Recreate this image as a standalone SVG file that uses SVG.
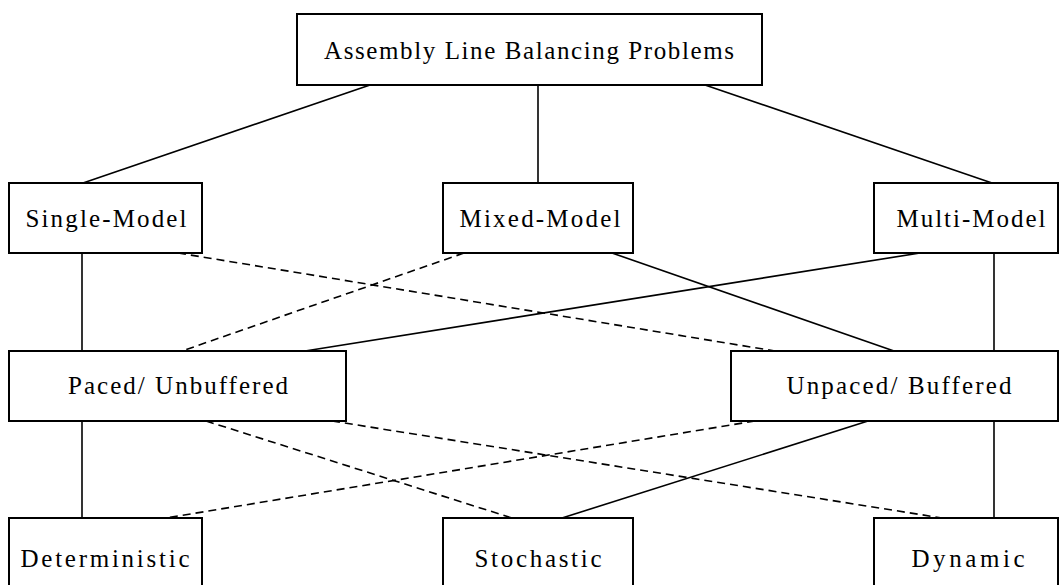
<svg xmlns="http://www.w3.org/2000/svg" width="1060" height="585" viewBox="0 0 1060 585">
  <style>
    .box { fill: #ffffff; stroke: #000000; stroke-width: 2; }
    .lbl { font-family: "Liberation Serif", "Times New Roman", serif; font-size: 25px; fill: #000000; text-anchor: middle; }
    .solid { stroke: #000000; stroke-width: 1.6; fill: none; }
    .dash { stroke: #000000; stroke-width: 1.6; fill: none; stroke-dasharray: 8 5; }
  </style>
  <rect width="1060" height="585" fill="#ffffff"/>

  <!-- connectors -->
  <g id="connectors">
    <line class="solid" x1="370" y1="85" x2="83" y2="183"/>
    <line class="solid" x1="538" y1="85" x2="538" y2="183"/>
    <line class="solid" x1="705" y1="85" x2="992" y2="183"/>

    <line class="solid" x1="82" y1="253" x2="82" y2="351"/>
    <line class="solid" x1="994" y1="253" x2="994" y2="351"/>
    <line class="dash" x1="178" y1="253" x2="775" y2="351"/>
    <line class="dash" x1="464" y1="253" x2="182" y2="351"/>
    <line class="solid" x1="612" y1="253" x2="894" y2="351"/>
    <line class="solid" x1="920" y1="253" x2="305" y2="351"/>

    <line class="solid" x1="82" y1="421" x2="82" y2="518"/>
    <line class="solid" x1="994" y1="421" x2="994" y2="518"/>
    <line class="dash" x1="206" y1="421" x2="512" y2="518"/>
    <line class="dash" x1="332" y1="421" x2="942" y2="518"/>
    <line class="dash" x1="755" y1="421" x2="166" y2="518"/>
    <line class="solid" x1="868" y1="421" x2="562" y2="518"/>
  </g>

  <g id="root">
    <rect class="box" x="297" y="14" width="465" height="71"/>
    <text class="lbl" x="529" y="59" textLength="410" lengthAdjust="spacing">Assembly Line Balancing Problems</text>
  </g>

  <g id="single-model">
    <rect class="box" x="9" y="183" width="193" height="70"/>
    <text class="lbl" x="106" y="227" textLength="161" lengthAdjust="spacing">Single-Model</text>
  </g>
  <g id="mixed-model">
    <rect class="box" x="443" y="183" width="190" height="70"/>
    <text class="lbl" x="540" y="227" textLength="161" lengthAdjust="spacing">Mixed-Model</text>
  </g>
  <g id="multi-model">
    <rect class="box" x="874" y="183" width="184" height="70"/>
    <text class="lbl" x="971" y="227" textLength="149" lengthAdjust="spacing">Multi-Model</text>
  </g>

  <g id="paced">
    <rect class="box" x="9" y="351" width="337" height="70"/>
    <text class="lbl" x="178" y="394" textLength="220" lengthAdjust="spacing">Paced/ Unbuffered</text>
  </g>
  <g id="unpaced">
    <rect class="box" x="731" y="351" width="327" height="70"/>
    <text class="lbl" x="899" y="394" textLength="225" lengthAdjust="spacing">Unpaced/ Buffered</text>
  </g>

  <g id="deterministic">
    <rect class="box" x="9" y="518" width="193" height="80"/>
    <text class="lbl" x="105" y="567" textLength="169" lengthAdjust="spacing">Deterministic</text>
  </g>
  <g id="stochastic">
    <rect class="box" x="443" y="518" width="190" height="80"/>
    <text class="lbl" x="538" y="567" textLength="127" lengthAdjust="spacing">Stochastic</text>
  </g>
  <g id="dynamic">
    <rect class="box" x="874" y="518" width="184" height="80"/>
    <text class="lbl" x="968" y="567" textLength="113" lengthAdjust="spacing">Dynamic</text>
  </g>
</svg>
